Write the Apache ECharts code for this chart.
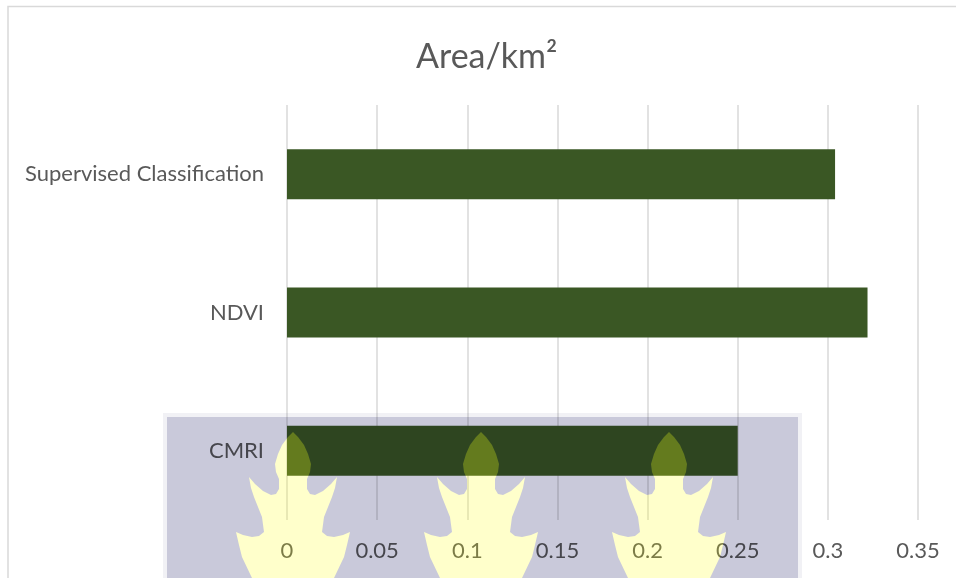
<!DOCTYPE html>
<html>
<head>
<meta charset="utf-8">
<style>
  html, body { margin: 0; padding: 0; background: #fff; }
  #chart { width: 956px; height: 578px; }
</style>
<script src="https://cdn.jsdelivr.net/npm/echarts@6/dist/echarts.min.js"></script>
</head>
<body>
<div id="chart"></div>
<script>
const chartTitle = 'Area/km²';
const categories = ['CMRI', 'NDVI', 'Supervised Classification'];
const areaValues = [0.25, 0.322, 0.304];

// watermark leaf outline, right half, offsets from the tip
const leafHalf = [[0, 0], [5, 5], [11, 13], [15, 22], [18, 32], [17, 40], [14, 47], [14, 57], [17, 62], [22, 63], [30, 59], [38, 52], [44, 45], [42, 56], [39, 65], [31, 85], [29, 100], [34, 104], [41, 105], [50, 103], [57, 100], [54, 113], [51, 125], [41, 146]];
const leafTips = [[293, 432], [481, 432], [669, 432]];

function leafPoints(tip) {
  const right = leafHalf.map(p => [tip[0] + p[0], tip[1] + p[1]]);
  const left = leafHalf.slice(1).reverse().map(p => [tip[0] - p[0], tip[1] + p[1]]);
  return right.concat(left);
}

const chart = echarts.init(document.getElementById('chart'));
const option = {
  backgroundColor: '#fff',
  animation: false,
  textStyle: { fontFamily: 'Lato' },
  title: {
    text: chartTitle,
    left: 411,
    top: 35,
    textStyle: { color: '#595959', fontSize: 34, fontWeight: 'normal', fontFamily: 'Lato' }
  },
  grid: { left: 287, right: 38, top: 105, bottom: 58 },
  xAxis: {
    type: 'value',
    min: 0,
    max: 0.35,
    interval: 0.05,
    axisLine: { show: false },
    axisTick: { show: false },
    splitLine: { lineStyle: { color: '#d9d9d9', width: 1.5 } },
    axisLabel: {
      margin: 20,
      fontSize: 22,
      fontFamily: 'Lato',
      color: function (v) { return v === 0.3 ? '#808080' : '#595959'; }
    }
  },
  yAxis: {
    type: 'category',
    data: categories,
    axisLine: { show: false },
    axisTick: { show: false },
    axisLabel: { margin: 23, fontSize: 22, fontFamily: 'Lato', color: '#595959' }
  },
  series: [
    {
      type: 'bar',
      data: areaValues,
      barWidth: 50,
      itemStyle: { color: '#3a5724' }
    }
  ],
  graphic: [
    { // chart frame
      type: 'polyline',
      z: 50,
      shape: { points: [[8, 578], [8, 6.5], [956, 6.5]] },
      style: { stroke: '#d9d9d9', lineWidth: 1.5, fill: null }
    },
    { // soft edge of the watermark block
      type: 'rect',
      z: 100,
      shape: { x: 163, y: 413, width: 639, height: 165 },
      style: { fill: '#f1f1f5', blend: 'multiply' }
    },
    {
      type: 'rect',
      z: 101,
      shape: { x: 167, y: 417, width: 631, height: 161 },
      style: { fill: '#d5d5e3', blend: 'multiply' }
    }
  ].concat(leafTips.map(tip => ({
    type: 'polygon',
    z: 102,
    shape: { points: leafPoints(tip) },
    style: { fill: '#363600', blend: 'lighter' }
  }))).concat(leafTips.map(tip => ({
    type: 'polygon',
    z: 103,
    shape: { points: leafPoints(tip) },
    style: { fill: '#ffffee', blend: 'multiply' }
  })))
};
chart.setOption(option);
</script>
</body>
</html>
